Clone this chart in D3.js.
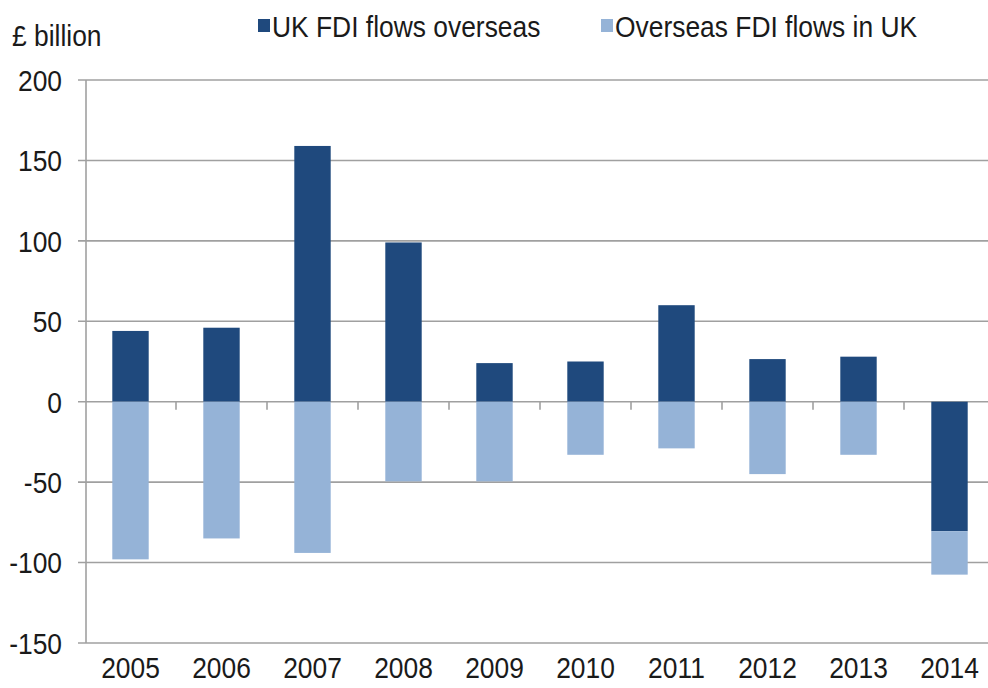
<!DOCTYPE html>
<html>
<head>
<meta charset="utf-8">
<script src="https://cdn.jsdelivr.net/npm/d3@7"></script>
<style>
  body { margin: 0; background: #fff; }
  text { font-family: "Liberation Sans", Arial, sans-serif; fill: #1a1a1a; font-size: 30px; }
</style>
</head>
<body>
<svg id="chart" width="988" height="688"></svg>
<script>
const years = ['2005', '2006', '2007', '2008', '2009', '2010', '2011', '2012', '2013', '2014'];
const ukOverseas = [44, 46, 159, 99, 24, 25, 60, 26.5, 28, -80.5];
const overseasInUK = [-98, -85, -94, -49.5, -49.5, -33, -29, -45, -33, -27];
const yTicks = [200, 150, 100, 50, 0, -50, -100, -150];
const seriesNames = ['UK FDI flows overseas', 'Overseas FDI flows in UK'];
const colors = ['#1f497d', '#95b3d7'];

const svg = d3.select('#chart');
const axisX = 86;
const rightEdge = 988;
const squeeze = 0.88; // text in the original is condensed horizontally

const pos = (px, py) => `translate(${px},${py}) scale(${squeeze},1)`;

const x = d3.scaleBand().domain(years).range([85, 995]).paddingInner(0.6).paddingOuter(0.3);
const y = d3.scaleLinear().domain([-150, 200]).range([643, 80]);

// stack: positives up from zero, negatives down from zero (or from previous negative)
const rows = years.map((yr, i) => ({ year: yr, a: ukOverseas[i], b: overseasInUK[i] }));
const stacked = d3.stack().keys(['a', 'b']).offset(d3.stackOffsetDiverging)(rows);

// gridlines
svg.append('g')
  .selectAll('line')
  .data(yTicks)
  .join('line')
  .attr('x1', axisX - 8)
  .attr('x2', rightEdge)
  .attr('y1', d => y(d))
  .attr('y2', d => y(d))
  .attr('stroke', '#a0a0a0')
  .attr('stroke-width', 1.6);

// y labels
svg.append('g')
  .selectAll('text')
  .data(yTicks)
  .join('text')
  .attr('transform', d => pos(62, y(d)))
  .attr('dy', '0.36em')
  .attr('text-anchor', 'end')
  .text(d => d);

// bars
svg.append('g')
  .selectAll('g')
  .data(stacked)
  .join('g')
  .attr('fill', (d, i) => colors[i])
  .selectAll('rect')
  .data(d => d)
  .join('rect')
  .attr('x', d => x(d.data.year))
  .attr('width', x.bandwidth())
  .attr('y', d => y(Math.max(d[0], d[1])))
  .attr('height', d => Math.abs(y(d[0]) - y(d[1])));

// vertical axis line
svg.append('line')
  .attr('x1', axisX).attr('x2', axisX)
  .attr('y1', y(200)).attr('y2', y(-150))
  .attr('stroke', '#a0a0a0')
  .attr('stroke-width', 1.6);

// category ticks hanging from zero line
const step = x.step();
svg.append('g')
  .selectAll('line')
  .data(years.slice(1))
  .join('line')
  .attr('x1', d => x(d) - x.paddingInner() * step / 2)
  .attr('x2', d => x(d) - x.paddingInner() * step / 2)
  .attr('y1', y(0))
  .attr('y2', y(0) + 8)
  .attr('stroke', '#a0a0a0')
  .attr('stroke-width', 1.6);

// x labels
svg.append('g')
  .selectAll('text')
  .data(years)
  .join('text')
  .attr('transform', d => pos(x(d) + x.bandwidth() / 2, 678))
  .attr('text-anchor', 'middle')
  .text(d => d);

// unit label
svg.append('text')
  .attr('transform', pos(12, 46))
  .text('£ billion');

// legend
const legendX = [258, 601];
const legend = svg.append('g')
  .selectAll('g')
  .data(seriesNames)
  .join('g')
  .attr('transform', (d, i) => `translate(${legendX[i]},0)`);
legend.append('rect')
  .attr('x', 0).attr('y', 19)
  .attr('width', 12).attr('height', 13)
  .attr('fill', (d, i) => colors[i]);
legend.append('text')
  .attr('transform', pos(14, 37))
  .text(d => d);
</script>
</body>
</html>
